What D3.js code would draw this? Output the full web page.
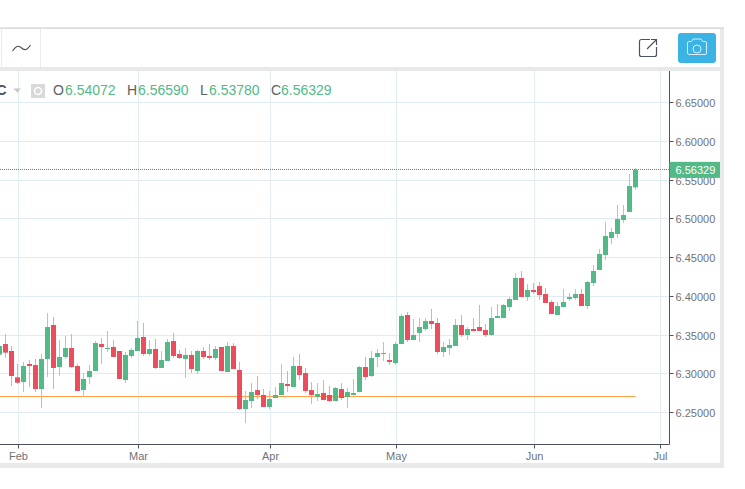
<!DOCTYPE html>
<html><head><meta charset="utf-8">
<script src="https://cdnjs.cloudflare.com/ajax/libs/d3/7.8.5/d3.min.js"></script>
<style>html,body{margin:0;padding:0;background:#fff;overflow:hidden}svg{display:block}
text{font-family:"Liberation Sans",Arial,sans-serif}</style></head><body>
<script>
const open=[6.3247,6.3384,6.3294,6.2954,6.2894,6.3126,6.3113,6.2803,6.3191,6.3630,
6.3087,6.3217,6.3333,6.3100,6.2790,6.2958,6.3036,6.3384,6.3320,6.3346,
6.3294,6.2920,6.3230,6.3294,6.3475,6.3255,6.3320,6.3075,6.3165,6.3423,
6.3255,6.3191,6.3243,6.3036,6.3294,6.3230,6.3204,6.3346,6.3023,6.3359,
6.3049,6.2545,6.2648,6.2790,6.2726,6.2571,6.2687,6.2726,6.2868,6.2829,
6.3100,6.3010,6.2790,6.2700,6.2752,6.2726,6.2648,6.2803,6.2700,6.2726,
6.2765,6.3087,6.2971,6.3217,6.3255,6.3178,6.3139,6.3384,6.3759,6.3436,
6.3527,6.3578,6.3681,6.3656,6.3281,6.3333,6.3359,6.3630,6.3501,6.3578,
6.3604,6.3565,6.3501,6.3720,6.3720,6.3862,6.3953,6.4237,6.3991,6.4082,
6.4133,6.4030,6.3927,6.3759,6.3862,6.3965,6.3978,6.4030,6.3875,6.4172,
6.4340,6.4534,6.4753,6.4805,6.4986,6.5089,6.54072];
const high=[6.3371,6.3514,6.3359,6.3126,6.3152,6.3178,6.3191,6.3255,6.3785,6.3733,
6.3436,6.3488,6.3514,6.3126,6.3010,6.3113,6.3423,6.3462,6.3552,6.3436,
6.3294,6.3281,6.3333,6.3682,6.3656,6.3436,6.3449,6.3294,6.3449,6.3527,
6.3307,6.3333,6.3294,6.3307,6.3346,6.3384,6.3359,6.3346,6.3410,6.3397,
6.3152,6.2778,6.2881,6.2971,6.2803,6.2778,6.2829,6.3126,6.3036,6.3217,
6.3255,6.3075,6.2894,6.2881,6.2920,6.2842,6.2829,6.2881,6.2816,6.2932,
6.3100,6.3217,6.3294,6.3320,6.3410,6.3268,6.3410,6.3772,6.3798,6.3707,
6.3720,6.3720,6.3836,6.3720,6.3410,6.3449,6.3707,6.3759,6.3604,6.3720,
6.3888,6.3643,6.3862,6.3901,6.3901,6.3991,6.4301,6.4327,6.4159,6.4172,
6.4185,6.4108,6.3953,6.3927,6.4095,6.4043,6.4095,6.4095,6.4198,6.4404,
6.4611,6.4960,6.4882,6.5179,6.5179,6.5579,6.56590];
const low=[6.3238,6.3208,6.2842,6.2868,6.2765,6.2829,6.2765,6.2558,6.2958,6.2803,
6.2971,6.3191,6.3075,6.2778,6.2700,6.2868,6.3036,6.3126,6.3281,6.3217,
6.2933,6.2881,6.3204,6.3294,6.3230,6.3230,6.3062,6.3075,6.3165,6.3204,
6.3191,6.2945,6.3010,6.2997,6.3191,6.3178,6.3178,6.3036,6.3023,6.3062,
6.2532,6.2364,6.2558,6.2674,6.2571,6.2545,6.2687,6.2726,6.2765,6.2829,
6.2920,6.2752,6.2610,6.2648,6.2661,6.2635,6.2648,6.2661,6.2558,6.2726,
6.2765,6.2920,6.2958,6.3087,6.3165,6.3113,6.3113,6.3384,6.3410,6.3436,
6.3410,6.3552,6.3578,6.3255,6.3217,6.3242,6.3359,6.3475,6.3436,6.3552,
6.3552,6.3475,6.3488,6.3720,6.3720,6.3811,6.3953,6.3991,6.3940,6.4030,
6.3953,6.3914,6.3772,6.3759,6.3862,6.3940,6.3953,6.3875,6.3836,6.4133,
6.4340,6.4469,6.4676,6.4753,6.4947,6.5089,6.53780];
const close=[6.3359,6.3273,6.2971,6.2885,6.3100,6.3100,6.2803,6.3191,6.3604,6.3075,
6.3217,6.3333,6.3087,6.2778,6.2933,6.3036,6.3397,6.3346,6.3333,6.3217,
6.2933,6.3243,6.3307,6.3462,6.3255,6.3320,6.3075,6.3178,6.3410,6.3230,
6.3204,6.3243,6.3062,6.3294,6.3217,6.3204,6.3320,6.3036,6.3359,6.3062,
6.2545,6.2661,6.2765,6.2726,6.2571,6.2674,6.2726,6.2881,6.2842,6.3100,
6.2984,6.2778,6.2726,6.2739,6.2661,6.2648,6.2816,6.2687,6.2765,6.2752,
6.3087,6.2958,6.3204,6.3268,6.3268,6.3152,6.3384,6.3746,6.3436,6.3501,
6.3604,6.3681,6.3643,6.3281,6.3346,6.3372,6.3630,6.3501,6.3578,6.3552,
6.3552,6.3501,6.3720,6.3746,6.3888,6.3965,6.4237,6.3991,6.4082,6.4056,
6.4017,6.3914,6.3772,6.3875,6.3927,6.3991,6.4030,6.3875,6.4185,6.4327,
6.4546,6.4779,6.4831,6.4998,6.5050,6.5424,6.56329];
const monthLabels=["Feb","Mar","Apr","May","Jun","Jul"];
const monthIndex=[3,23,45,66,89,110];
const priceTicks=[6.25,6.30,6.35,6.40,6.45,6.50,6.55,6.60,6.65];
const lastPrice=6.56329, levelPrice=6.2709;
const legend=[["O","6.54072",53,65],["H","6.56590",127,138],["L","6.53780",200,209],["C","6.56329",271,281]];

const W=745,H=489;
const axisX=669.5, axisY=444.5;
const GREEN="#53b987",RED="#eb4d5c",GWICK="#a9cac6",RWICK="#f0a3ad",GRID="#e0ebf2",AXIS="#4c525e",TXT="#6f7378",BAND="#e7e9eb";
const svg=d3.select("body").append("svg").attr("width",W).attr("height",H);
const x=d3.scaleLinear().domain([3,110]).range([18.5,660.5]);
const y=d3.scaleLinear().domain([6.25,6.65]).range([412.5,102.7]);
const py=v=>Math.round(y(v)-0.5)+0.5;

// frame
svg.append("rect").attr("x",0).attr("y",27).attr("width",724).attr("height",441).attr("fill",BAND);
svg.append("rect").attr("x",0).attr("y",29).attr("width",720).attr("height",38).attr("fill","#fff");
svg.append("rect").attr("x",0).attr("y",71).attr("width",720).attr("height",392).attr("fill","#fff");
svg.append("rect").attr("x",0).attr("y",27.5).attr("width",724).attr("height",1.5).attr("fill","#dcdee0");
[1.5,40.5].forEach(v=>svg.append("line").attr("x1",v).attr("x2",v).attr("y1",29).attr("y2",67).attr("stroke","#e9ecee"));

// toolbar icons
svg.append("path").attr("d","M12.5 51C16 46 18 45 21 47.5C24 50.5 26.5 51 30.5 45").attr("fill","none").attr("stroke","#4c525e").attr("stroke-width",1.1);
svg.append("path").attr("d","M650 39.5H641.5a2 2 0 0 0-2 2V54.5a2 2 0 0 0 2 2H654.5a2 2 0 0 0 2-2V47").attr("fill","none").attr("stroke","#4c525e").attr("stroke-width",1.2);
svg.append("path").attr("d","M647 49L656.5 39.5M651 39.5H656.5V45").attr("fill","none").attr("stroke","#4c525e").attr("stroke-width",1.2);
svg.append("rect").attr("x",678).attr("y",33).attr("width",38).attr("height",30).attr("rx",3).attr("fill","#3bb3e4");
svg.append("path").attr("d","M689 43.5h2.5l1.5-2.5h8l1.5 2.5h2.5a1.5 1.5 0 0 1 1.5 1.5v10a1.5 1.5 0 0 1-1.5 1.5h-16a1.5 1.5 0 0 1-1.5-1.5v-10a1.5 1.5 0 0 1 1.5-1.5z").attr("transform","translate(0,-2)").attr("fill","none").attr("stroke","#d5eef9").attr("stroke-width",1);
svg.append("circle").attr("cx",697).attr("cy",49).attr("r",4).attr("fill","none").attr("stroke","#d5eef9").attr("stroke-width",1);

// grid
const chart=svg.append("g");
chart.selectAll(".hg").data(priceTicks).join("line").attr("x1",0).attr("x2",axisX).attr("y1",d=>py(d)).attr("y2",d=>py(d)).attr("stroke",GRID);
chart.selectAll(".vg").data(monthIndex).join("line").attr("x1",d=>x(d)).attr("x2",d=>x(d)).attr("y1",71).attr("y2",axisY).attr("stroke",GRID);

// level line
chart.append("line").attr("x1",0).attr("x2",635.5).attr("y1",py(levelPrice)).attr("y2",py(levelPrice)).attr("stroke","#ff9f4a");

// candles
const idx=d3.range(close.length);
const col=i=>close[i]>=open[i];
chart.selectAll(".w").data(idx).join("line")
 .attr("x1",i=>x(i)-1).attr("x2",i=>x(i)-1)
 .attr("y1",i=>y(high[i])).attr("y2",i=>y(low[i]))
 .attr("stroke",i=>col(i)?GWICK:RWICK);
chart.selectAll(".b").data(idx).join("rect")
 .attr("x",i=>x(i)-3.5).attr("width",5)
 .attr("y",i=>y(Math.max(open[i],close[i])))
 .attr("height",i=>Math.max(1,Math.abs(y(open[i])-y(close[i]))))
 .attr("fill",i=>col(i)?GREEN:RED);

// last price line
chart.append("line").attr("x1",0).attr("x2",axisX).attr("y1",py(lastPrice)).attr("y2",py(lastPrice)).attr("stroke","#4f8f78").attr("stroke-dasharray","1,1");

// axes
const ax=d3.axisRight(y).tickValues(priceTicks).tickFormat(d3.format(".5f")).tickSize(4).tickPadding(2);
const ga=svg.append("g").attr("transform",`translate(${axisX},0)`).call(ax);
const bx=d3.axisBottom(x).tickValues(monthIndex).tickFormat((d,i)=>monthLabels[i]).tickSize(4).tickPadding(4);
const gb=svg.append("g").attr("transform",`translate(0,${axisY})`).call(bx);
[ga,gb].forEach(g=>{g.select(".domain").remove();g.selectAll("line").attr("stroke",AXIS);
 g.selectAll("text").attr("fill",TXT).style("font-size","11px").style("font-family",'"Liberation Sans",Arial,sans-serif');});
ga.selectAll("text").attr("dy","0.4em");
ga.selectAll(".tick").attr("transform",d=>`translate(0,${py(d)})`);
gb.selectAll(".tick").attr("transform",d=>`translate(${x(d)},0)`);
svg.append("line").attr("x1",axisX).attr("x2",axisX).attr("y1",71).attr("y2",axisY).attr("stroke",AXIS);
svg.append("line").attr("x1",0).attr("x2",axisX).attr("y1",axisY).attr("y2",axisY).attr("stroke",AXIS);

// price tag
svg.append("rect").attr("x",axisX).attr("y",y(lastPrice)-8).attr("width",720-axisX).attr("height",16).attr("fill",GREEN);
svg.append("text").attr("x",axisX+6).attr("y",y(lastPrice)+4).attr("fill","#fff").style("font-size","11px").text(d3.format(".5f")(lastPrice));

// legend
svg.append("text").attr("x",-3.5).attr("y",95).attr("fill","#4c525e").style("font-size","14px").style("font-weight","bold").text("C");
svg.append("path").attr("d","M13.5 88.5H21L17.2 92.5Z").attr("fill","#c4c7c9");
svg.append("rect").attr("x",31).attr("y",84).attr("width",14).attr("height",14).attr("fill","#d9d9d9");
svg.append("circle").attr("cx",38).attr("cy",91).attr("r",3.5).attr("fill","none").attr("stroke","#fff").attr("stroke-width",1.5);
legend.forEach(([k,v,a,b])=>{
 svg.append("text").attr("x",a).attr("y",95).attr("fill","#5d6066").style("font-size","14px").text(k);
 svg.append("text").attr("x",b).attr("y",95).attr("fill",GREEN).style("font-size","14px").text(v);
});
</script></body></html>
